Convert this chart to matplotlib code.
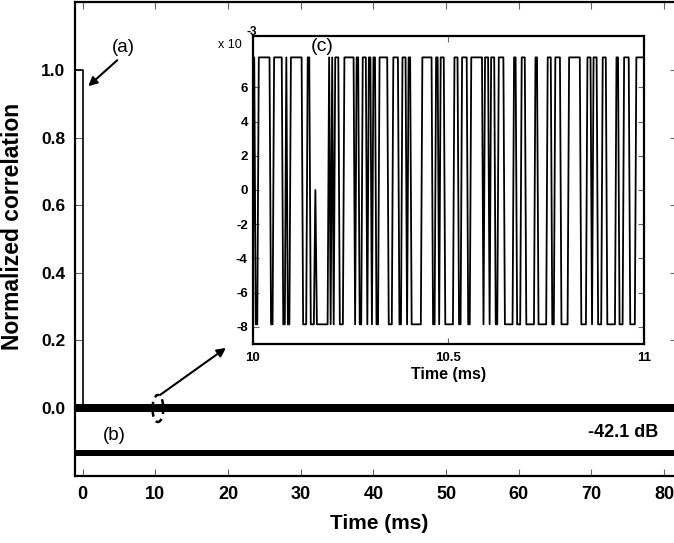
import numpy as np
import matplotlib
matplotlib.use('Agg')
import matplotlib.pyplot as plt
from matplotlib.patches import Ellipse
from matplotlib.ticker import FuncFormatter

plt.rcParams['font.family'] = ['Liberation Sans', 'DejaVu Sans']
plt.rcParams['font.weight'] = 'bold'
plt.rcParams['path.simplify'] = False

# ---------------- data ----------------
high_level = 7.75e-3          # upper sidelobe level (inset)
low_level = -7.85e-3          # lower sidelobe level (inset)
zero_level = 0.0
samples_per_ms = 256
# run-length reading of the inset trace between 10 and 11 ms
inset_runs = [('L', 1), ('H', 1), ('L', 2), ('H', 8), ('L', 2), ('H', 6), ('L', 2), ('H', 1), ('L', 2), ('H', 8),
              ('L', 3), ('H', 2), ('L', 3), ('Z', 1), ('L', 8),
              ('H', 1), ('L', 1), ('H', 1), ('L', 1), ('H', 3), ('L', 3), ('H', 7),
              ('L', 1), ('H', 2), ('L', 2), ('H', 3), ('L', 1), ('H', 2), ('L', 1), ('H', 2), ('L', 2), ('H', 6),
              ('L', 3), ('H', 4), ('L', 2), ('H', 3), ('L', 1), ('H', 2), ('L', 7), ('H', 7),
              ('L', 2), ('H', 2), ('L', 1), ('H', 3), ('L', 6), ('H', 3), ('L', 2), ('H', 4), ('L', 2), ('H', 8),
              ('L', 1), ('H', 3), ('L', 1), ('H', 3), ('L', 2), ('H', 4), ('L', 6), ('H', 2), ('L', 3), ('H', 3),
              ('L', 6), ('H', 2), ('L', 6), ('H', 3), ('L', 2), ('H', 4), ('L', 5), ('H', 8), ('L', 4), ('H', 3),
              ('L', 1), ('H', 3), ('L', 3), ('H', 3), ('L', 6), ('H', 2), ('L', 3), ('H', 4), ('L', 4), ('H', 5)]
inset_start_ms = 10.0

# main correlation peak (a)
peak_t = [-1.5, 0.0, 0.0]
peak_v = [1.0, 1.0, 0.0]
main_range_ms = (-1.5, 82.0)

# trace (b): offset copy of the sidelobes
band_b_offset = -0.133
band_b_scale = 0.7

x_ticks = [0, 10, 20, 30, 40, 50, 60, 70, 80]
y_ticks = [0.0, 0.2, 0.4, 0.6, 0.8, 1.0]
inset_x_ticks = [10, 10.5, 11]
inset_x_labels = ['10', '10.5', '11']
inset_y_ticks = [-8e-3, -6e-3, -4e-3, -2e-3, 0.0, 2e-3, 4e-3, 6e-3]

level_map = {'H': high_level, 'L': low_level, 'Z': zero_level}
pattern = np.concatenate([np.full(n, level_map[c]) for c, n in inset_runs])
n_pat = len(pattern)
inset_t = inset_start_ms + np.arange(n_pat) / samples_per_ms

# the main trace is the same sidelobe pattern over the full record
main_idx = np.arange(int(main_range_ms[0] * samples_per_ms), int(main_range_ms[1] * samples_per_ms))
main_t = main_idx / samples_per_ms
main_v = pattern[np.mod(main_idx, n_pat)]
band_b_v = band_b_offset + band_b_scale * pattern[np.mod(main_idx + n_pat // 3, n_pat)]

# ---------------- figure ----------------
W, H = 674, 543
fig = plt.figure(figsize=(W / 100, H / 100), dpi=100)
ax = fig.add_axes([75 / W, 1 - 476 / H, 602 / W, 474 / H])

ax.plot(main_t, main_v, color='k', lw=1.3, zorder=2)
ax.plot(peak_t, peak_v, color='k', lw=1.2, zorder=2)
ax.plot(main_t, band_b_v, color='k', lw=1.3, zorder=2)

ax.set_xlim(-1.06, 81.79)
ax.set_ylim(-0.2014, 1.2023)
ax.set_xticks(x_ticks)
ax.set_yticks(y_ticks)
ax.yaxis.set_major_formatter(FuncFormatter(lambda v, p: f'{v:.1f}'))
ax.tick_params(direction='in', top=True, right=True, length=5, width=0.8, color='#666666')
ax.tick_params(axis='x', labelsize=13, pad=7.5)
ax.tick_params(axis='y', labelsize=12.5, pad=7)
for s in ax.spines.values():
    s.set_linewidth(1.6)

ax.set_xlabel('Time (ms)', fontsize=15, fontweight='bold')
ax.xaxis.set_label_coords(0.505, -0.08)
ax.set_ylabel('Normalized correlation', fontsize=16.5, fontweight='bold')
ax.yaxis.set_label_coords(-0.085, 0.527)

# dashed ellipse around the zoomed region
ax.add_patch(Ellipse((10.35, -0.0015), 1.5, 0.08, fill=False, ec='k', lw=1.8,
                     ls=(0, (2, 2)), zorder=5))

arrow_kw = dict(arrowstyle='-|>', color='k', lw=1.5, mutation_scale=13, shrinkA=0, shrinkB=0)
ax.annotate('', xy=(0.76, 0.953), xytext=(4.76, 1.03), arrowprops=arrow_kw, zorder=6)
ax.annotate('', xy=(19.72, 0.178), xytext=(10.64, 0.0385), arrowprops=arrow_kw, zorder=6)

ax.text(5.55, 1.069, '(a)', fontsize=13.5, fontweight='normal', ha='center', va='center')
ax.text(4.3, -0.08, '(b)', fontsize=13.5, fontweight='normal', ha='center', va='center')
ax.text(74.4, -0.074, '-42.1 dB', fontsize=13, fontweight='bold', ha='center', va='center')

# ---------------- inset ----------------
iax = fig.add_axes([252.7 / W, 1 - 344 / H, 391.3 / W, 308 / H])
iax.set_facecolor('white')
iax.plot(inset_t, pattern, color='k', lw=1.3)
iax.set_xlim(10, 11)
iax.set_ylim(-9e-3, 9e-3)
iax.set_xticks(inset_x_ticks)
iax.set_xticklabels(inset_x_labels)
iax.set_yticks(inset_y_ticks)
iax.yaxis.set_major_formatter(FuncFormatter(lambda v, p: f'{v * 1e3:.0f}'))
iax.tick_params(direction='in', top=True, right=True, length=4, width=0.8, color='#666666')
iax.tick_params(axis='x', labelsize=9.5, pad=6)
iax.tick_params(axis='y', labelsize=9.5, pad=3.5)
for s in iax.spines.values():
    s.set_linewidth(1.6)
iax.set_xlabel('Time (ms)', fontsize=11.5, fontweight='bold')
iax.xaxis.set_label_coords(0.5, -0.075)
iax.text(-0.088, 0.962, 'x 10', transform=iax.transAxes, fontsize=9, fontweight='normal',
         ha='left', va='baseline', clip_on=False)
iax.text(-0.016, 1.003, '-3', transform=iax.transAxes, fontsize=8.5, fontweight='bold',
         ha='left', va='baseline', clip_on=False, zorder=10)
iax.text(10.177, 8.4e-3, '(c)', fontsize=14, fontweight='normal', ha='center', va='center')

fig.savefig('out.png', dpi=100)
